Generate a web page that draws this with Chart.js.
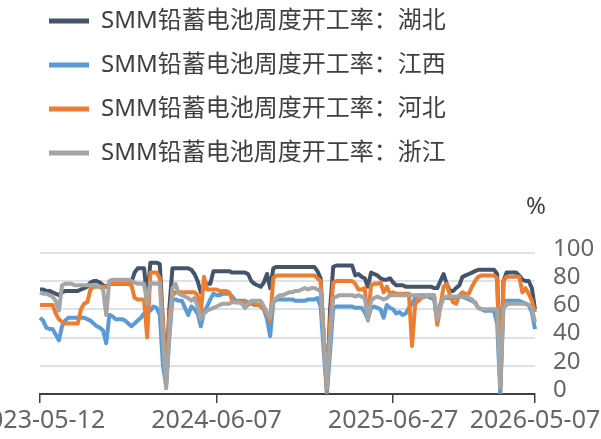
<!DOCTYPE html>
<html>
<head>
<meta charset="utf-8">
<script src="https://cdn.jsdelivr.net/npm/chart.js@4.4.1/dist/chart.umd.min.js"></script>
<style>
  html, body { margin: 0; padding: 0; background: #fff; }
  canvas { display: block; }
</style>
</head>
<body>
<canvas id="chart" width="601" height="439"></canvas>
<script>
// weekly report dates, one run per stretch of regular weeks
const dateRuns = [['2023-05-12', 56], ['2024-06-07', 35], ['2025-02-05', 1], ['2025-02-07', 20], ['2025-06-27', 45], ['2026-05-07', 1]];
const tickLabels = ['2023-05-12', '2024-06-07', '2025-06-27', '2026-05-07'];

const hubei = [
  74, 74, 73, 73, 72, 71, 70, 72, 73, 73,
  73, 73, 73, 74, 75, 76, 79, 80, 80, 79,
  77, 76, 78, 78, 78, 78, 78, 78, 78, 79,
  86, 89, 89, 89, 68, 93, 93, 93, 92, 50,
  8, 60, 89, 89, 89, 89, 89, 89, 88, 85,
  80, 72, 76, 78, 78, 87, 87, 87, 87, 87,
  87, 86, 86, 86, 86, 86, 85, 80, 78, 77,
  76, 79, 85, 75, 89, 90, 90, 90, 90, 90,
  90, 90, 90, 90, 90, 90, 90, 90, 87, 82,
  40, 2, 60, 90, 91, 91, 91, 91, 91, 91,
  84, 85, 83, 82, 76, 86, 85, 84, 82, 81,
  81, 82, 79, 77, 77, 77, 76, 76, 76, 76,
  76, 76, 76, 76, 76, 75, 75, 80, 85, 78,
  73, 73, 75, 77, 83, 84, 85, 86, 87, 88,
  88, 88, 88, 88, 88, 85, 5, 80, 86, 86,
  86, 86, 84, 81, 80, 80, 75, 60
];
const jiangxi = [
  54, 52, 47, 46, 46, 42, 38, 48, 52, 54,
  54, 54, 54, 54, 54, 53, 52, 50, 48, 47,
  45, 36, 56, 55, 53, 53, 53, 52, 50, 48,
  50, 52, 54, 57, 58, 59, 62, 61, 56, 20,
  6, 40, 67, 67, 66, 66, 61, 56, 62, 60,
  57, 48, 58, 62, 67, 71, 70, 70, 71, 71,
  71, 69, 66, 66, 66, 66, 65, 64, 63, 63,
  62, 60, 53, 41, 65, 67, 67, 67, 67, 67,
  67, 66, 66, 66, 66, 67, 67, 67, 68, 62,
  30, 0, 30, 61, 62, 62, 62, 62, 62, 62,
  61, 61, 61, 58, 53, 61, 62, 61, 60, 54,
  63, 61, 60, 57, 58, 56, 57, 61, 64, 68,
  70, 70, 70, 69, 68, 67, 52, 64, 68, 68,
  68, 68, 68, 69, 69, 68, 67, 66, 65, 61,
  60, 59, 59, 59, 59, 50, 0, 66, 66, 66,
  66, 66, 66, 65, 64, 63, 58, 46
];
const hebei = [
  63, 63, 63, 63, 63, 57, 53, 51, 50, 50,
  50, 50, 50, 60, 64, 65, 74, 76, 76, 76,
  76, 76, 78, 78, 78, 78, 78, 78, 78, 77,
  68, 67, 67, 67, 40, 86, 86, 86, 82, 50,
  8, 55, 70, 72, 72, 72, 72, 72, 72, 72,
  70, 57, 83, 74, 74, 74, 74, 73, 73, 73,
  72, 66, 65, 65, 65, 65, 64, 64, 64, 63,
  63, 60, 57, 52, 82, 84, 84, 84, 84, 84,
  84, 84, 84, 84, 84, 84, 84, 84, 82, 80,
  40, 3, 50, 79, 80, 80, 80, 80, 80, 80,
  78, 74, 74, 75, 52, 77, 78, 78, 79, 72,
  76, 71, 72, 71, 71, 71, 71, 71, 34, 64,
  66, 68, 69, 70, 70, 70, 49, 62, 76, 78,
  70, 65, 64, 70, 72, 71, 71, 76, 80, 83,
  84, 84, 84, 84, 84, 82, 5, 80, 83, 83,
  83, 83, 83, 72, 75, 71, 66, 58
];
const zhejiang = [
  72, 71, 71, 70, 69, 66, 59, 77, 78, 78,
  78, 77, 77, 77, 77, 77, 77, 77, 77, 76,
  74, 56, 80, 81, 81, 81, 81, 81, 81, 80,
  79, 78, 78, 78, 64, 79, 78, 78, 78, 40,
  4, 40, 75, 78, 71, 70, 69, 68, 66, 68,
  62, 53, 57, 59, 60, 61, 62, 63, 64, 64,
  64, 65, 65, 65, 64, 61, 63, 66, 66, 66,
  66, 62, 58, 54, 66, 68, 70, 70, 71, 72,
  72, 73, 73, 74, 75, 74, 75, 75, 74, 73,
  40, 4, 40, 68, 69, 70, 70, 70, 70, 70,
  69, 70, 69, 68, 53, 66, 68, 69, 68, 67,
  68, 70, 70, 70, 70, 70, 70, 70, 70, 70,
  70, 69, 69, 70, 70, 70, 53, 62, 68, 69,
  69, 69, 69, 69, 69, 69, 68, 67, 64, 61,
  60, 60, 60, 60, 60, 60, 5, 61, 63, 64,
  64, 64, 64, 64, 64, 63, 61, 51
];

function expandDates(runs) {
  const out = [];
  runs.forEach(([start, n]) => {
    const d = new Date(start + 'T00:00:00Z');
    for (let k = 0; k < n; k++) {
      out.push(d.toISOString().slice(0, 10));
      d.setUTCDate(d.getUTCDate() + 7);
    }
  });
  return out;
}
const categories = expandDates(dateRuns);

Chart.defaults.font.family = "'Noto Sans', 'Noto Sans CJK SC', sans-serif";

// move the "%" title over the right axis
const percentPos = {
  id: 'percentPos',
  afterLayout(chart) {
    const t = chart.titleBlock;
    const w = t.right - t.left;
    t.right = chart.chartArea.right + 11;
    t.left = t.right - w;
  }
};

function line(label, data, color, order) {
  return {
    label: label,
    data: data,
    borderColor: color,
    backgroundColor: color,
    borderWidth: 4,
    pointRadius: 0,
    tension: 0,
    borderJoinStyle: 'round',
    order: order
  };
}

new Chart(document.getElementById('chart'), {
  type: 'line',
  data: {
    labels: categories,
    datasets: [
      line('SMM铅蓄电池周度开工率：湖北', hubei, '#44546a', 4),
      line('SMM铅蓄电池周度开工率：江西', jiangxi, '#5b9bd5', 3),
      line('SMM铅蓄电池周度开工率：河北', hebei, '#ed7d31', 2),
      line('SMM铅蓄电池周度开工率：浙江', zhejiang, '#a5a5a5', 1)
    ]
  },
  options: {
    responsive: false,
    animation: false,
    layout: { padding: { left: 29, top: -11, right: 0, bottom: 0 } },
    plugins: {
      legend: {
        position: 'top',
        align: 'start',
        labels: {
          boxWidth: 40,
          boxHeight: 5,
          padding: 20,
          color: '#404040',
          font: { size: 24 },
          sort: (a, b) => a.datasetIndex - b.datasetIndex,
          generateLabels(chart) {
            const items = Chart.defaults.plugins.legend.labels.generateLabels(chart);
            items.forEach(it => { it.lineWidth = 0; });
            return items;
          }
        }
      },
      title: {
        display: true,
        text: '%',
        position: 'top',
        align: 'end',
        fullSize: false,
        weight: 500,
        color: '#404040',
        font: { size: 24, weight: 'normal' },
        padding: { top: 18, bottom: 31 }
      },
      tooltip: { enabled: false }
    },
    scales: {
      x: {
        type: 'category',
        grid: { display: true, drawOnChartArea: false, drawTicks: true, tickLength: 9, color: '#404040', lineWidth: 1.5 },
        border: { display: true, color: '#404040', width: 2 },
        ticks: { autoSkip: false, maxRotation: 0, minRotation: 0, padding: 3, color: '#666', font: { size: 25 } },
        afterBuildTicks(axis) {
          axis.ticks = axis.ticks.filter(t => tickLabels.includes(categories[t.value]));
        },
        afterFit(axis) {
          axis.paddingLeft = 40;
          axis.paddingRight = 0;
        }
      },
      y: {
        position: 'right',
        min: 0,
        max: 100,
        grid: {
          color: ctx => ctx.tick.value === 0 ? 'rgba(0,0,0,0)' : '#dde1ea',
          lineWidth: 2,
          drawTicks: false
        },
        border: { display: false },
        ticks: { autoSkip: false, stepSize: 20, padding: 18, color: '#666', font: { size: 24 }, labelOffset: -4 },
        afterFit(axis) { axis.width = 66; }
      }
    }
  },
  plugins: [percentPos]
});
</script>
</body>
</html>
